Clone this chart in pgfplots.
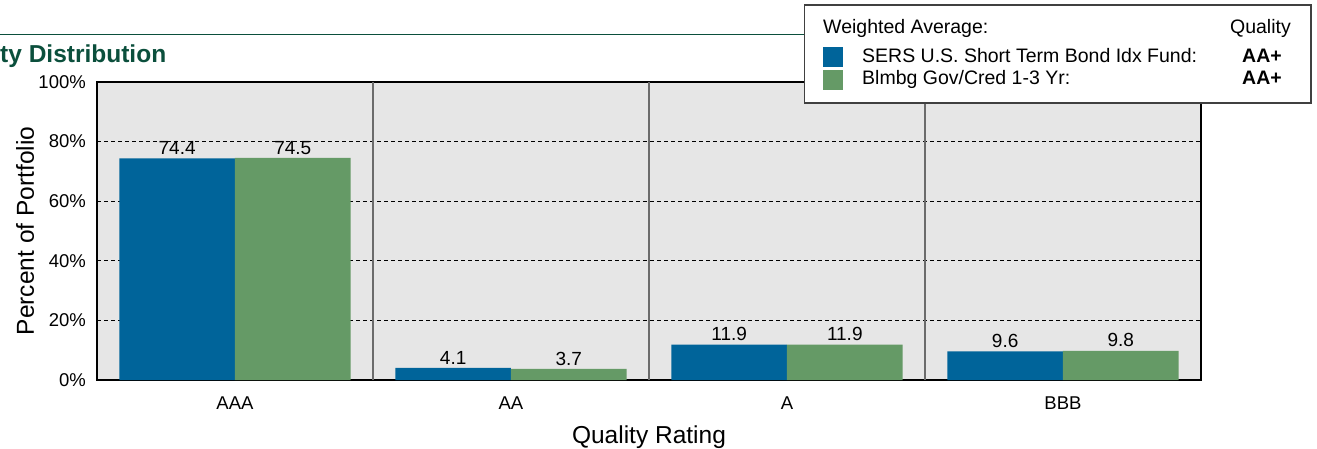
\documentclass[border=0pt]{standalone}
\usepackage{pgfplots}
\pgfplotsset{compat=1.18}
\usepackage{fontspec}
\setmainfont{Liberation Sans}
\definecolor{fundblue}{HTML}{00649A}
\definecolor{idxgreen}{HTML}{659A66}
\definecolor{bggray}{HTML}{E6E6E6}
\definecolor{sepgray}{HTML}{6B6B6B}
\definecolor{titlegreen}{HTML}{0B4F3C}
\begin{document}
\begin{tikzpicture}[x=1pt,y=1pt,font=\fontsize{19.5}{23}\selectfont]
\path[use as bounding box] (0,0) rectangle (1317,448);
\begin{axis}[
  at={(97pt,68pt)}, anchor=south west,
  scale only axis, width=1104pt, height=298pt,
  xmin=-0.5, xmax=3.5, ymin=0, ymax=100,
  axis background/.style={fill=bggray},
  axis line style={black, line width=1.2pt},
  xtick={0,1,2,3}, xticklabels={AAA,AA,A,BBB},
  ytick={0,20,40,60,80,100}, yticklabels={0\%,20\%,40\%,60\%,80\%,100\%},
  major tick length=0pt,
  ymajorgrids,
  y grid style={black, dash pattern=on 4pt off 3pt, line width=0.8pt},
  extra x ticks={0.5,1.5,2.5}, extra x tick labels={},
  extra x tick style={xmajorgrids=true, major tick length=0pt},
  x grid style={sepgray, solid, line width=1.5pt},
  xticklabel style={font=\fontsize{18.5}{22}\selectfont, inner sep=0pt, anchor=north, yshift=-16.5pt},
  yticklabel style={font=\fontsize{18.5}{22}\selectfont, inner sep=0pt, anchor=east, xshift=-11pt},
  xlabel={Quality Rating},
  ylabel={Percent of Portfolio},
  xlabel style={at={(axis description cs:0.5,0)}, anchor=base, inner sep=0pt, yshift=-63pt, font=\fontsize{24.5}{28}\selectfont},
  ylabel style={at={([xshift=-63pt]axis description cs:0,0.5)}, anchor=base, inner sep=0pt, font=\fontsize{24.5}{28}\selectfont},
  /pgf/number format/assume math mode=true,
  nodes near coords={\pgfmathprintnumber[fixed,fixed zerofill,precision=1]{\pgfplotspointmeta}},
  every node near coord/.append style={font=\fontsize{19}{22}\selectfont, inner sep=0pt, anchor=south, yshift=3.5pt, text=black},
]
% bars at category index -/+ 0.2095 (category 0=AAA, 1=AA, 2=A, 3=BBB)
\addplot[ybar, fill=fundblue, draw=none, bar width=0.419, bar shift=0]
  coordinates {(-0.2095,74.4) (0.7905,4.1) (1.7905,11.9) (2.7905,9.6)};
\addplot[ybar, fill=idxgreen, draw=none, bar width=0.419, bar shift=0]
  coordinates {(0.2095,74.5) (1.2095,3.7) (2.2095,11.9) (3.2095,9.8)};
\end{axis}
\draw[titlegreen, line width=1.5pt] (0,413.7) -- (805,413.7);
\node[anchor=base west, inner sep=0pt, font=\fontsize{24.5}{28}\selectfont\bfseries, text=titlegreen] at (0,385) {ty Distribution};
\draw[fill=white, draw=black!75, line width=1.2pt] (804.5,345) rectangle (1311,443);
\node[anchor=base west, inner sep=0pt] at (823,414.5) {Weighted Average:};
\node[anchor=base east, inner sep=0pt] at (1291,414.5) {Quality};
\fill[fundblue] (823,381) rectangle (843,401);
\fill[idxgreen] (823,358) rectangle (843,378);
\node[anchor=base west, inner sep=0pt] at (862,385) {SERS U.S. Short Term Bond Idx Fund:};
\node[anchor=base west, inner sep=0pt] at (862,363) {Blmbg Gov/Cred 1-3 Yr:};
\node[anchor=base, inner sep=0pt, font=\fontsize{19.5}{23}\selectfont\bfseries] at (1262,385) {AA+};
\node[anchor=base, inner sep=0pt, font=\fontsize{19.5}{23}\selectfont\bfseries] at (1262,363) {AA+};
\end{tikzpicture}
\end{document}
